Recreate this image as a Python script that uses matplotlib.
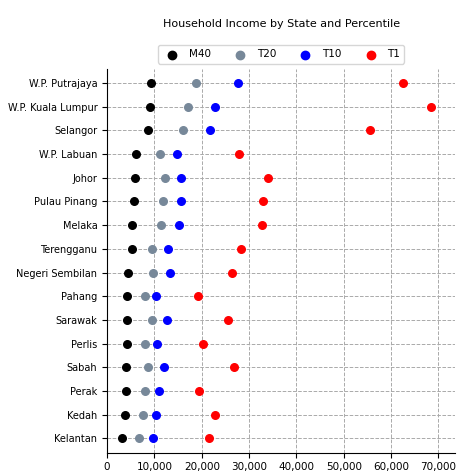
import matplotlib
matplotlib.use('Agg')
import matplotlib.pyplot as plt
from matplotlib.ticker import FuncFormatter

states = ['W.P. Putrajaya', 'W.P. Kuala Lumpur', 'Selangor', 'W.P. Labuan', 'Johor',
          'Pulau Pinang', 'Melaka', 'Terengganu', 'Negeri Sembilan', 'Pahang',
          'Sarawak', 'Perlis', 'Sabah', 'Perak', 'Kedah', 'Kelantan']
m40 = [9300, 9100, 8700, 6100, 5900, 5700, 5300, 5300, 4400, 4200, 4200, 4200, 4000, 4000, 3800, 3200]
t20 = [18800, 17100, 16000, 11200, 12200, 11800, 11400, 9500, 9700, 8000, 9500, 8000, 8600, 8000, 7600, 6800]
t10 = [27600, 22800, 21700, 14800, 15600, 15600, 15200, 12900, 13300, 10300, 12700, 10500, 12000, 11000, 10300, 9700]
t1 = [62500, 68500, 55500, 27800, 34000, 33000, 32800, 28200, 26300, 19300, 25600, 20200, 26800, 19500, 22800, 21500]

series = [('M40', m40, 'black'), ('T20', t20, 'lightslategray'),
          ('T10', t10, 'blue'), ('T1', t1, 'red')]

fig, ax = plt.subplots(figsize=(4.74, 4.74), dpi=100)
ypos = list(range(len(states)))[::-1]
for name, vals, col in series:
    ax.scatter(vals, ypos, color=col, s=30, label=name, zorder=3)

ax.set_yticks(ypos)
ax.set_yticklabels(states, fontsize=7)
ax.set_xlim(0, 73500)
ax.set_ylim(-0.6, len(states) - 0.4)
ax.set_xticks(range(0, 70001, 10000))
ax.xaxis.set_major_formatter(FuncFormatter(lambda v, p: f'{int(v):,}'))
ax.tick_params(axis='x', labelsize=7.5)
ax.grid(True, linestyle='--', color='#aaaaaa', linewidth=0.7)
ax.set_axisbelow(True)
ax.spines['top'].set_visible(False)
ax.spines['right'].set_visible(False)
ax.set_title('Household Income by State and Percentile', fontsize=8, pad=30)
ax.legend(loc='lower center', bbox_to_anchor=(0.5, 1.0), ncol=4, fontsize=7.5,
          frameon=True, columnspacing=1.8, handletextpad=0.6, markerscale=1.1)

plt.subplots_adjust(left=0.226, right=0.96, top=0.855, bottom=0.045)
plt.savefig('out.png', dpi=100)
